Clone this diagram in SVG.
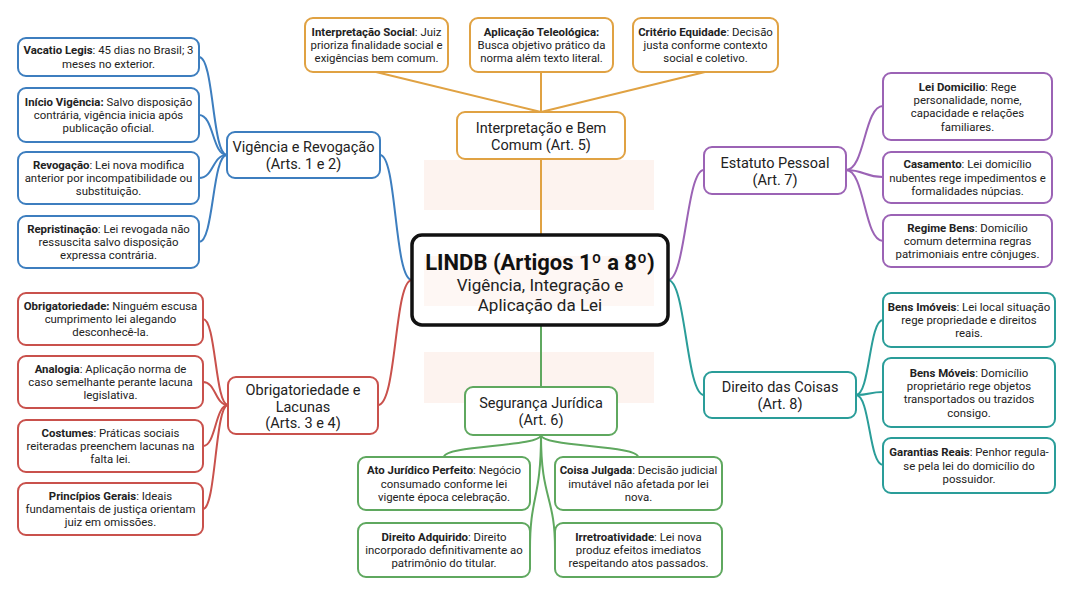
<svg xmlns="http://www.w3.org/2000/svg" width="1072" height="590" viewBox="0 0 1072 590">
<style>
.leaf{fill:#fff;stroke-width:2}
.mid{fill:#fff;stroke-width:2}
.lt{font-family:Roboto,"Liberation Sans",sans-serif;font-size:11.4px;fill:#222;text-anchor:middle}
.lt .b{font-weight:bold}
.mt{font-family:Roboto,"Liberation Sans",sans-serif;font-size:14.5px;fill:#222;text-anchor:middle}
.c path,.c line{fill:none;stroke-width:2}
.blue{stroke:#3d7ebf}.red{stroke:#c9514c}.org{stroke:#e0a243}.pur{stroke:#9b63b5}.teal{stroke:#2a9d99}.grn{stroke:#5fa85f}
.pink{fill:#fdf3ef}
</style>
<rect width="1072" height="590" fill="#fff"/>
<rect class="pink" x="424" y="160" width="230" height="50"/>
<rect class="pink" x="424" y="352" width="230" height="51"/>
<g id="connectors" class="c">
<line class="org" x1="376" y1="72" x2="541" y2="112"/>
<line class="org" x1="541" y1="72" x2="541" y2="112"/>
<line class="org" x1="705" y1="72" x2="541" y2="112"/>
<line class="org" x1="541" y1="159" x2="541" y2="235"/>
<line class="grn" x1="541" y1="325" x2="541" y2="387"/>
<path class="blue" d="M380,155 C397,155 394,280 412,280"/>
<path class="red" d="M412,280 C394,280 397,405 378,405"/>
<path class="pur" d="M668,280 C686,280 686,170 704,170"/>
<path class="teal" d="M668,280 C686,280 686,395 704,395"/>
<path class="blue" d="M199,57 C214,57 212,155 227,155"/>
<path class="blue" d="M199,115 C214,115 212,155 227,155"/>
<path class="blue" d="M199,178 C214,178 212,155 227,155"/>
<path class="blue" d="M199,242 C214,242 212,155 227,155"/>
<path class="red" d="M203,319 C216,319 215,405 228,405"/>
<path class="red" d="M203,382 C216,382 215,405 228,405"/>
<path class="red" d="M203,446 C216,446 215,405 228,405"/>
<path class="red" d="M203,509 C216,509 215,405 228,405"/>
<path class="pur" d="M846,170 C865,170 864,106 883,106"/>
<path class="pur" d="M846,170 C865,170 864,177 883,177"/>
<path class="pur" d="M846,170 C865,170 864,241 883,241"/>
<path class="teal" d="M856,395 C870,395 869,320 883,320"/>
<path class="teal" d="M856,395 C870,395 869,392 883,392"/>
<path class="teal" d="M856,395 C870,395 869,465 883,465"/>
<path class="grn" d="M541,435 C541,447 444,445 444,457"/>
<path class="grn" d="M541,435 C541,447 638,445 638,457"/>
<path class="grn" d="M541,435 C541,500 530,495 530,549"/>
<path class="grn" d="M541,435 C541,500 555,495 555,549"/>
</g>
<g id="center">
<rect x="412" y="235" width="256" height="90" rx="10" fill="#fff" stroke="#111" stroke-width="3.5"/>
<rect class="pink" x="424" y="256" width="230" height="50" opacity="0.7"/>
<text x="540" y="270" font-family="Roboto,'Liberation Sans',sans-serif" font-size="22" font-weight="bold" fill="#111" text-anchor="middle">LINDB (Artigos 1º a 8º)</text>
<text x="540" y="291" font-family="Roboto,'Liberation Sans',sans-serif" font-size="17" fill="#222" text-anchor="middle">Vigência, Integração e</text>
<text x="540" y="311" font-family="Roboto,'Liberation Sans',sans-serif" font-size="17" fill="#222" text-anchor="middle">Aplicação da Lei</text>
</g>
<g id="n-vigencia"><rect class="mid blue" x="227" y="132" width="153" height="46" rx="8"/>
<text class="mt"><tspan x="303.5" y="152">Vigência e Revogação</tspan><tspan x="303.5" y="169">(Arts. 1 e 2)</tspan></text></g>
<g id="n-obrig"><rect class="mid red" x="228" y="377" width="150" height="57" rx="8"/>
<text class="mt"><tspan x="303" y="395">Obrigatoriedade e</tspan><tspan x="303" y="411.5">Lacunas</tspan><tspan x="303" y="428">(Arts. 3 e 4)</tspan></text></g>
<g id="n-estatuto"><rect class="mid pur" x="704" y="147" width="142" height="47" rx="8"/>
<text class="mt"><tspan x="775" y="168">Estatuto Pessoal</tspan><tspan x="775" y="185">(Art. 7)</tspan></text></g>
<g id="n-coisas"><rect class="mid teal" x="704" y="372" width="152" height="46" rx="8"/>
<text class="mt"><tspan x="780" y="392">Direito das Coisas</tspan><tspan x="780" y="409">(Art. 8)</tspan></text></g>
<g id="n-interp"><rect class="mid org" x="457" y="112" width="168" height="47" rx="8"/>
<text class="mt"><tspan x="541" y="133">Interpretação e Bem</tspan><tspan x="541" y="150">Comum (Art. 5)</tspan></text></g>
<g id="n-seguranca"><rect class="mid grn" x="465" y="387" width="152" height="48" rx="8"/>
<text class="mt"><tspan x="541" y="408">Segurança Jurídica</tspan><tspan x="541" y="425">(Art. 6)</tspan></text></g>

<g id="l-vacatio"><rect class="leaf blue" x="18" y="38" width="181" height="38" rx="8"/>
<text class="lt"><tspan x="108.5" y="54.3"><tspan class="b">Vacatio Legis</tspan>: 45 dias no Brasil; 3</tspan><tspan x="108.5" y="67.6">meses no exterior.</tspan></text></g>
<g id="l-inicio"><rect class="leaf blue" x="18" y="88" width="181" height="54" rx="8"/>
<text class="lt"><tspan x="108.5" y="105.7"><tspan class="b">Início Vigência:</tspan> Salvo disposição</tspan><tspan x="108.5" y="119">contrária, vigência inicia após</tspan><tspan x="108.5" y="132.3">publicação oficial.</tspan></text></g>
<g id="l-revogacao"><rect class="leaf blue" x="18" y="152" width="181" height="52" rx="8"/>
<text class="lt"><tspan x="108.5" y="168.7"><tspan class="b">Revogação</tspan>: Lei nova modifica</tspan><tspan x="108.5" y="182">anterior por incompatibilidade ou</tspan><tspan x="108.5" y="195.3">substituição.</tspan></text></g>
<g id="l-repristinacao"><rect class="leaf blue" x="18" y="216" width="181" height="52" rx="8"/>
<text class="lt"><tspan x="108.5" y="232.7"><tspan class="b">Repristinação</tspan>: Lei revogada não</tspan><tspan x="108.5" y="246">ressuscita salvo disposição</tspan><tspan x="108.5" y="259.3">expressa contrária.</tspan></text></g>

<g id="l-obrigatoriedade"><rect class="leaf red" x="18" y="293" width="185" height="52" rx="8"/>
<text class="lt"><tspan x="110.5" y="309.7"><tspan class="b">Obrigatoriedade:</tspan> Ninguém escusa</tspan><tspan x="110.5" y="323">cumprimento lei alegando</tspan><tspan x="110.5" y="336.3">desconhecê-la.</tspan></text></g>
<g id="l-analogia"><rect class="leaf red" x="18" y="356" width="185" height="52" rx="8"/>
<text class="lt"><tspan x="110.5" y="372.7"><tspan class="b">Analogia</tspan>: Aplicação norma de</tspan><tspan x="110.5" y="386">caso semelhante perante lacuna</tspan><tspan x="110.5" y="399.3">legislativa.</tspan></text></g>
<g id="l-costumes"><rect class="leaf red" x="18" y="420" width="185" height="52" rx="8"/>
<text class="lt"><tspan x="110.5" y="436.7"><tspan class="b">Costumes</tspan>: Práticas sociais</tspan><tspan x="110.5" y="450">reiteradas preenchem lacunas na</tspan><tspan x="110.5" y="463.3">falta lei.</tspan></text></g>
<g id="l-principios"><rect class="leaf red" x="18" y="483" width="185" height="52" rx="8"/>
<text class="lt"><tspan x="110.5" y="499.7"><tspan class="b">Princípios Gerais</tspan>: Ideais</tspan><tspan x="110.5" y="513">fundamentais de justiça orientam</tspan><tspan x="110.5" y="526.3">juiz em omissões.</tspan></text></g>

<g id="l-interp-social"><rect class="leaf org" x="305" y="18" width="143" height="54" rx="8"/>
<text class="lt"><tspan x="376.5" y="35.7"><tspan class="b">Interpretação Social</tspan>: Juiz</tspan><tspan x="376.5" y="49">prioriza finalidade social e</tspan><tspan x="376.5" y="62.3">exigências bem comum.</tspan></text></g>
<g id="l-teleologica"><rect class="leaf org" x="470" y="18" width="143" height="54" rx="8"/>
<text class="lt"><tspan x="541.5" y="35.7"><tspan class="b">Aplicação Teleológica:</tspan></tspan><tspan x="541.5" y="49">Busca objetivo prático da</tspan><tspan x="541.5" y="62.3">norma além texto literal.</tspan></text></g>
<g id="l-equidade"><rect class="leaf org" x="633" y="18" width="145" height="54" rx="8"/>
<text class="lt"><tspan x="705.5" y="35.7"><tspan class="b">Critério Equidade</tspan>: Decisão</tspan><tspan x="705.5" y="49">justa conforme contexto</tspan><tspan x="705.5" y="62.3">social e coletivo.</tspan></text></g>

<g id="l-domicilio"><rect class="leaf pur" x="883" y="73" width="169" height="67" rx="8"/>
<text class="lt"><tspan x="967.5" y="90.6"><tspan class="b">Lei Domicilio</tspan>: Rege</tspan><tspan x="967.5" y="103.9">personalidade, nome,</tspan><tspan x="967.5" y="117.2">capacidade e relações</tspan><tspan x="967.5" y="130.5">familiares.</tspan></text></g>
<g id="l-casamento"><rect class="leaf pur" x="883" y="152" width="169" height="51" rx="8"/>
<text class="lt"><tspan x="967.5" y="168.2"><tspan class="b">Casamento</tspan>: Lei domicílio</tspan><tspan x="967.5" y="181.5">nubentes rege impedimentos e</tspan><tspan x="967.5" y="194.8">formalidades núpcias.</tspan></text></g>
<g id="l-regime"><rect class="leaf pur" x="883" y="215" width="169" height="52" rx="8"/>
<text class="lt"><tspan x="967.5" y="231.7"><tspan class="b">Regime Bens</tspan>: Domicílio</tspan><tspan x="967.5" y="245">comum determina regras</tspan><tspan x="967.5" y="258.3">patrimoniais entre cônjuges.</tspan></text></g>

<g id="l-imoveis"><rect class="leaf teal" x="883" y="293" width="172" height="54" rx="8"/>
<text class="lt"><tspan x="969" y="310.7"><tspan class="b">Bens Imóveis</tspan>: Lei local situação</tspan><tspan x="969" y="324">rege propriedade e direitos</tspan><tspan x="969" y="337.3">reais.</tspan></text></g>
<g id="l-moveis"><rect class="leaf teal" x="883" y="358" width="172" height="69" rx="8"/>
<text class="lt"><tspan x="969" y="376.6"><tspan class="b">Bens Móveis</tspan>: Domicílio</tspan><tspan x="969" y="389.9">proprietário rege objetos</tspan><tspan x="969" y="403.2">transportados ou trazidos</tspan><tspan x="969" y="416.5">consigo.</tspan></text></g>
<g id="l-garantias"><rect class="leaf teal" x="883" y="438" width="172" height="55" rx="8"/>
<text class="lt"><tspan x="969" y="456.2"><tspan class="b">Garantias Reais</tspan>: Penhor regula-</tspan><tspan x="969" y="469.5">se pela lei do domicílio do</tspan><tspan x="969" y="482.8">possuidor.</tspan></text></g>

<g id="l-ato"><rect class="leaf grn" x="358" y="457" width="172" height="53" rx="8"/>
<text class="lt"><tspan x="444" y="474.2"><tspan class="b">Ato Jurídico Perfeito</tspan>: Negócio</tspan><tspan x="444" y="487.5">consumado conforme lei</tspan><tspan x="444" y="500.8">vigente época celebração.</tspan></text></g>
<g id="l-coisa"><rect class="leaf grn" x="555" y="457" width="167" height="53" rx="8"/>
<text class="lt"><tspan x="638.5" y="474.2"><tspan class="b">Coisa Julgada</tspan>: Decisão judicial</tspan><tspan x="638.5" y="487.5">imutável não afetada por lei</tspan><tspan x="638.5" y="500.8">nova.</tspan></text></g>
<g id="l-adquirido"><rect class="leaf grn" x="358" y="523" width="172" height="54" rx="8"/>
<text class="lt"><tspan x="444" y="540.7"><tspan class="b">Direito Adquirido</tspan>: Direito</tspan><tspan x="444" y="554">incorporado definitivamente ao</tspan><tspan x="444" y="567.3">patrimônio do titular.</tspan></text></g>
<g id="l-irretro"><rect class="leaf grn" x="555" y="523" width="167" height="54" rx="8"/>
<text class="lt"><tspan x="638.5" y="540.7"><tspan class="b">Irretroatividade</tspan>: Lei nova</tspan><tspan x="638.5" y="554">produz efeitos imediatos</tspan><tspan x="638.5" y="567.3">respeitando atos passados.</tspan></text></g>
</svg>
